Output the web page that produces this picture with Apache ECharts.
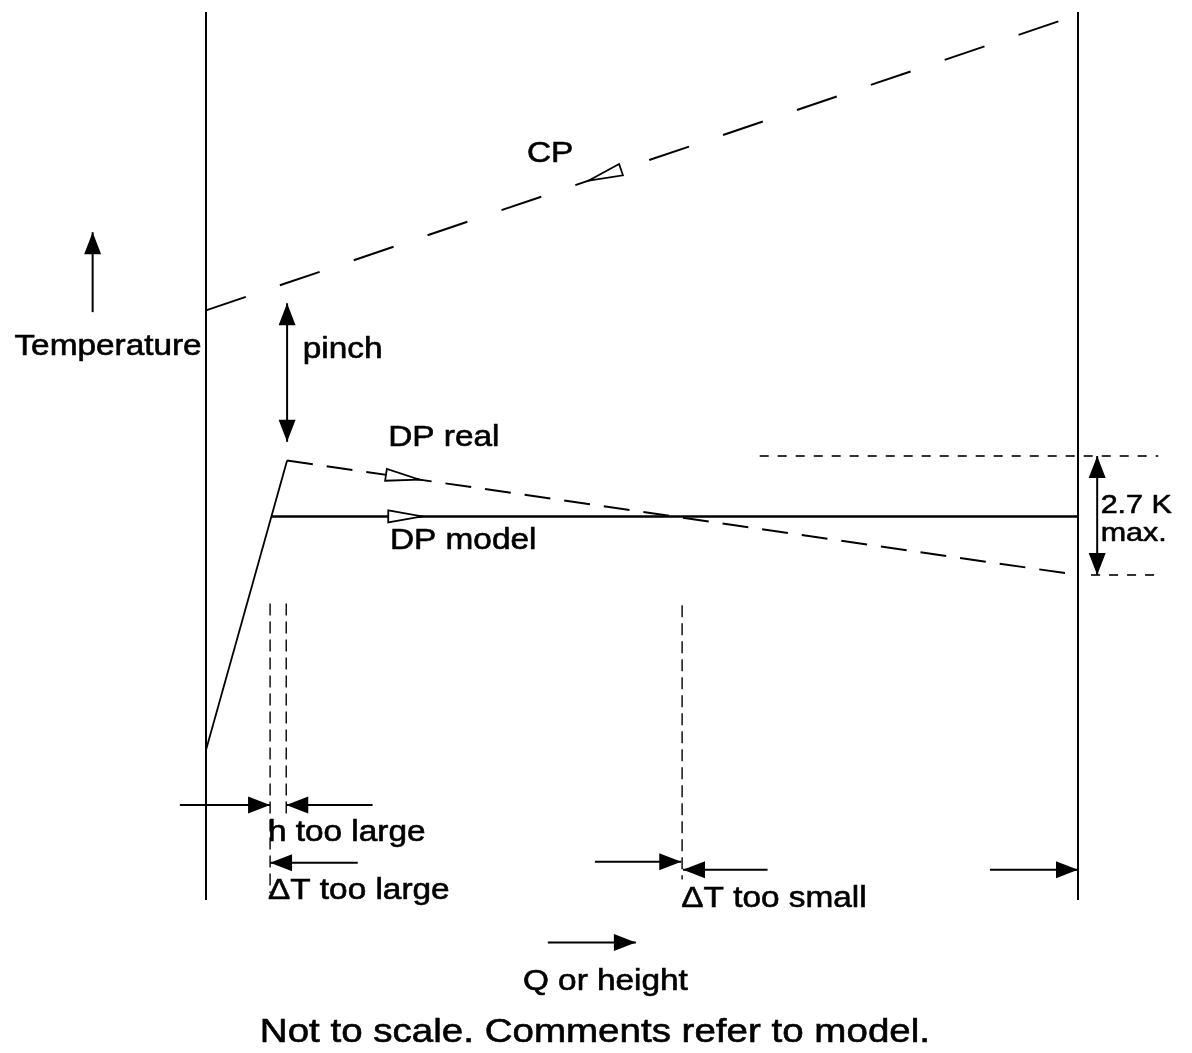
<!DOCTYPE html>
<html>
<head>
<meta charset="utf-8">
<script src="https://cdn.jsdelivr.net/npm/echarts@6/dist/echarts.min.js"></script>
<style>
  html, body { margin: 0; padding: 0; background: #fff; }
  #chart { width: 1192px; height: 1053px; }
</style>
</head>
<body>
<div id="chart"></div>
<script>
// Schematic units: Q (horizontal) runs 0..100 between the two walls,
// temperature runs 0..100 from the bottom of the walls to their top.
const walls = [[0, 0, 0, 100], [100, 0, 100, 100]];
const cpLine = [0, 66.4, 100, 99.7];
const dpRise = [0, 16.9, 9.3, 49.5];
const dpReal = [9.3, 49.5, 100, 36.6];
const dpModel = [7.45, 43.2, 100, 43.2];
const guideLines = [[7.35, 33.4, 7.35, 0.8], [9.2, 33.4, 9.2, 9.2], [54.6, 33.2, 54.6, 2.3]];
const rangeLines = [[63.5, 50, 109.2, 50], [101.5, 36.6, 109.2, 36.6]];

// Flow direction markers: line, Q position of the tip, direction along the line
const flowMarks = [[cpLine, 43.9, -1], [dpReal, 24.5, 1], [dpModel, 24.8, 1]];

// Dimension arrows: x1, y1, x2, y2, number of heads (1 = at end, 2 = both ends)
const arrows = [
  [-13, 66.2, -13, 75.2, 1],
  [9.3, 67.2, 9.3, 51.6, 2],
  [102.2, 50, 102.2, 36.6, 2],
  [-3, 10.7, 7.35, 10.7, 1],
  [19.1, 10.7, 9.2, 10.7, 1],
  [17.4, 4.2, 7.35, 4.2, 1],
  [44.6, 4.3, 54.5, 4.3, 1],
  [64.4, 3.4, 54.7, 3.4, 1],
  [89.9, 3.4, 100, 3.4, 1],
  [39.2, -4.8, 49.3, -4.8, 1]
];

// Text labels: text, anchor position, alignment, size
const labelTexts = ['Temperature', 'pinch', 'CP', 'DP real', 'DP model', '2.7 K', 'max.',
  'h too large', '\u0394T too large', '\u0394T too small', 'Q or height',
  'Not to scale. Comments refer to model.'];
const labelPos = [[-0.5, 62.3], [11.1, 61.9], [36.8, 84.0], [20.9, 52.0], [21.1, 40.4],
  [102.6, 44.4], [102.6, 41.2], [7.1, 7.5], [7.1, 1.0], [54.5, 0.15], [45.8, -9.2], [44.6, -15.0]];
const labelAlign = ['right', 'left', 'left', 'left', 'left', 'left', 'left', 'left', 'left',
  'left', 'center', 'center'];
const labelSize = [29, 29, 29, 29, 29, 26.5, 26.5, 29, 29, 29, 29, 33.5];

const FONT = '"Liberation Sans", Arial, Helvetica, sans-serif';
const INK = '#000';

function segmentSeries(data, style) {
  return {
    type: 'custom',
    coordinateSystem: 'cartesian2d',
    silent: true,
    clip: false,
    data: data,
    renderItem: function (params, api) {
      const p1 = api.coord([api.value(0), api.value(1)]);
      const p2 = api.coord([api.value(2), api.value(3)]);
      return {
        type: 'line',
        shape: { x1: p1[0], y1: p1[1], x2: p2[0], y2: p2[1] },
        style: Object.assign({ stroke: INK, fill: null }, style)
      };
    }
  };
}

function headPoints(tip, dx, dy, len, half) {
  const bx = tip[0] - dx * len, by = tip[1] - dy * len;
  return [tip, [bx - dy * half, by + dx * half], [bx + dy * half, by - dx * half]];
}

const arrowSeries = {
  type: 'custom',
  coordinateSystem: 'cartesian2d',
  silent: true,
  clip: false,
  data: arrows.map(a => a.slice(0, 4)),
  renderItem: function (params, api) {
    const a = arrows[params.dataIndex];
    const p1 = api.coord([a[0], a[1]]);
    const p2 = api.coord([a[2], a[3]]);
    const L = Math.hypot(p2[0] - p1[0], p2[1] - p1[1]);
    const dx = (p2[0] - p1[0]) / L, dy = (p2[1] - p1[1]) / L;
    const children = [{
      type: 'line',
      shape: { x1: p1[0], y1: p1[1], x2: p2[0], y2: p2[1] },
      style: { stroke: INK, lineWidth: 2 }
    }, {
      type: 'polygon',
      shape: { points: headPoints(p2, dx, dy, 22, 8.5) },
      style: { fill: INK }
    }];
    if (a[4] === 2) {
      children.push({
        type: 'polygon',
        shape: { points: headPoints(p1, -dx, -dy, 22, 8.5) },
        style: { fill: INK }
      });
    }
    return { type: 'group', children: children };
  }
};

const flowSeries = {
  type: 'custom',
  coordinateSystem: 'cartesian2d',
  silent: true,
  clip: false,
  data: flowMarks.map(m => [m[1], m[0][1] + (m[0][3] - m[0][1]) * (m[1] - m[0][0]) / (m[0][2] - m[0][0])]),
  renderItem: function (params, api) {
    const m = flowMarks[params.dataIndex];
    const line = m[0];
    const a = api.coord([line[0], line[1]]);
    const b = api.coord([line[2], line[3]]);
    const tip = api.coord([api.value(0), api.value(1)]);
    const L = Math.hypot(b[0] - a[0], b[1] - a[1]);
    const dx = m[2] * (b[0] - a[0]) / L, dy = m[2] * (b[1] - a[1]) / L;
    return {
      type: 'polygon',
      shape: { points: headPoints(tip, dx, dy, 34, 6) },
      style: { fill: '#fff', stroke: INK, lineWidth: 1.8 }
    };
  }
};

const labelSeries = {
  type: 'custom',
  coordinateSystem: 'cartesian2d',
  silent: true,
  clip: false,
  data: labelPos,
  renderItem: function (params, api) {
    const i = params.dataIndex;
    const p = api.coord([api.value(0), api.value(1)]);
    return {
      type: 'text',
      x: p[0],
      y: p[1],
      scaleX: 1.15,
      style: {
        text: labelTexts[i],
        x: 0,
        y: 0,
        fill: INK,
        stroke: INK,
        lineWidth: 0.6,
        fontSize: labelSize[i],
        fontFamily: FONT,
        align: labelAlign[i],
        verticalAlign: 'middle'
      }
    };
  }
};

const chart = echarts.init(document.getElementById('chart'), null, { renderer: 'canvas' });
chart.setOption({
  animation: false,
  backgroundColor: '#fff',
  grid: { left: 206, right: 114, top: 12, bottom: 153 },
  xAxis: { type: 'value', min: 0, max: 100, show: false },
  yAxis: { type: 'value', min: 0, max: 100, show: false },
  series: [
    segmentSeries(walls, { lineWidth: 2 }),
    segmentSeries([cpLine], { lineWidth: 2, lineDash: [42, 36] }),
    segmentSeries([dpRise], { lineWidth: 1.8 }),
    segmentSeries([dpReal], { lineWidth: 2, lineDash: [26, 14] }),
    segmentSeries([dpModel], { lineWidth: 2.5 }),
    segmentSeries(guideLines, { lineWidth: 1.4, lineDash: [12, 6] }),
    segmentSeries(rangeLines, { lineWidth: 1.6, lineDash: [9, 9] }),
    flowSeries,
    arrowSeries,
    labelSeries
  ]
});
</script>
</body>
</html>
